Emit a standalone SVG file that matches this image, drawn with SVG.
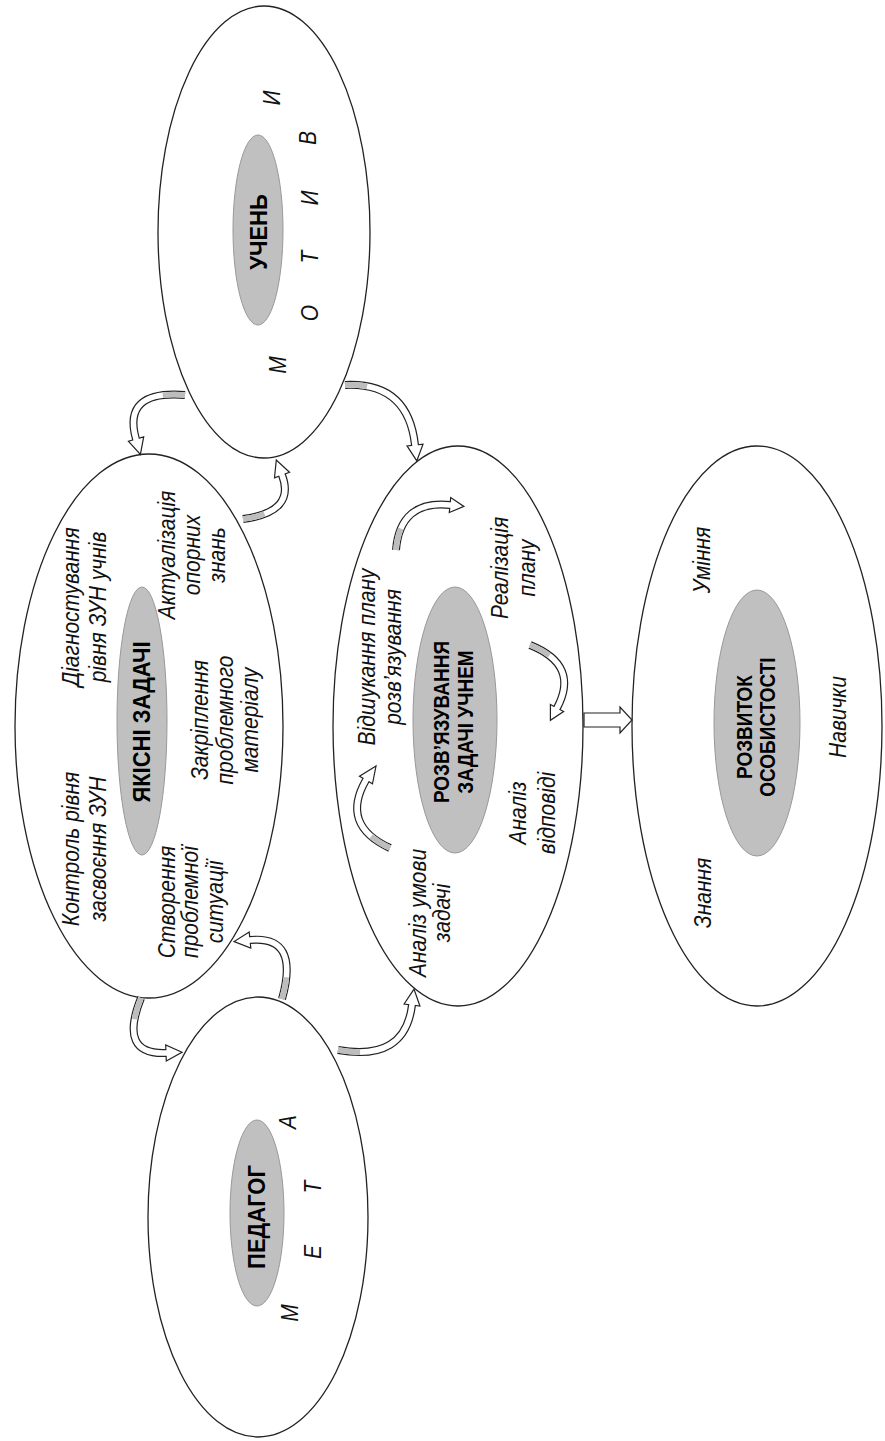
<svg xmlns="http://www.w3.org/2000/svg" width="885" height="1441" viewBox="0 0 885 1441">
<style>
.big{fill:#fff;stroke:#222;stroke-width:1.3}
.core{fill:#c0c0c0;stroke:#999;stroke-width:1}
.lbl{font-family:"Liberation Sans",Arial,sans-serif;font-style:italic;font-size:21px;fill:#111;text-anchor:middle;dominant-baseline:central}
.ttl{font-family:"Liberation Sans",Arial,sans-serif;font-weight:bold;font-size:22px;fill:#000;text-anchor:middle;dominant-baseline:central}
.ttl2{font-family:"Liberation Sans",Arial,sans-serif;font-weight:bold;font-size:19px;fill:#000;text-anchor:middle;dominant-baseline:central}
.bo{fill:none;stroke:#222;stroke-width:8}
.bi{fill:none;stroke:#fff;stroke-width:5.6}
.bg{fill:none;stroke:#bdbdbd;stroke-width:5.6;stroke-dasharray:22 2000}
.hd{fill:#fff;stroke:#222;stroke-width:1.2;stroke-linejoin:miter}
</style>
<rect width="885" height="1441" fill="#fff"/>

<g id="uchen">
<ellipse class="big" cx="264" cy="232" rx="106" ry="226"/>
<ellipse class="core" cx="258" cy="230" rx="25" ry="95"/>
<text class="ttl" transform="translate(259,232) rotate(-90) scale(1,1.12)">УЧЕНЬ</text>
<text class="lbl" transform="translate(278,365) rotate(-90) scale(1,1.12)">М</text>
<text class="lbl" transform="translate(310,313) rotate(-90) scale(1,1.12)">О</text>
<text class="lbl" transform="translate(310,257) rotate(-90) scale(1,1.12)">Т</text>
<text class="lbl" transform="translate(310,198) rotate(-90) scale(1,1.12)">И</text>
<text class="lbl" transform="translate(308,138) rotate(-90) scale(1,1.12)">В</text>
<text class="lbl" transform="translate(272,98) rotate(-90) scale(1,1.12)">И</text>
</g>

<g id="yakisni">
<ellipse class="big" cx="149" cy="726" rx="134" ry="272"/>
<ellipse class="core" cx="142" cy="721" rx="25" ry="134"/>
<text class="ttl" transform="translate(142,722) rotate(-90) scale(1,1.12)">ЯКІСНІ ЗАДАЧІ</text>
<text class="lbl" transform="translate(71,849) rotate(-90) scale(1,1.12)">Контроль рівня</text>
<text class="lbl" transform="translate(98,849) rotate(-90) scale(1,1.12)">засвоєння ЗУН</text>
<text class="lbl" transform="translate(71,607) rotate(-90) scale(1,1.12)">Діагностування</text>
<text class="lbl" transform="translate(98,607) rotate(-90) scale(1,1.12)">рівня ЗУН учнів</text>
<text class="lbl" transform="translate(167,555) rotate(-90) scale(1,1.12)">Актуалізація</text>
<text class="lbl" transform="translate(192,555) rotate(-90) scale(1,1.12)">опорних</text>
<text class="lbl" transform="translate(217,555) rotate(-90) scale(1,1.12)">знань</text>
<text class="lbl" transform="translate(200,720) rotate(-90) scale(1,1.12)">Закріплення</text>
<text class="lbl" transform="translate(225,720) rotate(-90) scale(1,1.12)">проблемного</text>
<text class="lbl" transform="translate(250,720) rotate(-90) scale(1,1.12)">матеріалу</text>
<text class="lbl" transform="translate(167,902) rotate(-90) scale(1,1.12)">Створення</text>
<text class="lbl" transform="translate(190,902) rotate(-90) scale(1,1.12)">проблемної</text>
<text class="lbl" transform="translate(215,902) rotate(-90) scale(1,1.12)">ситуації</text>
</g>

<g id="rozvyazuvannya">
<ellipse class="big" cx="458" cy="726" rx="125" ry="280"/>
<ellipse class="core" cx="455" cy="720" rx="42" ry="133"/>
<text class="ttl2" transform="translate(442,722) rotate(-90) scale(1,1.12)">РОЗВ’ЯЗУВАННЯ</text>
<text class="ttl2" transform="translate(466,722) rotate(-90) scale(1,1.12)">ЗАДАЧІ УЧНЕМ</text>
<text class="lbl" transform="translate(367,657) rotate(-90) scale(1,1.12)">Відшукання плану</text>
<text class="lbl" transform="translate(393,657) rotate(-90) scale(1,1.12)">розв’язування</text>
<text class="lbl" transform="translate(500,568) rotate(-90) scale(1,1.12)">Реалізація</text>
<text class="lbl" transform="translate(527,568) rotate(-90) scale(1,1.12)">плану</text>
<text class="lbl" transform="translate(518,813) rotate(-90) scale(1,1.12)">Аналіз</text>
<text class="lbl" transform="translate(547,813) rotate(-90) scale(1,1.12)">відповіді</text>
<text class="lbl" transform="translate(418,913) rotate(-90) scale(1,1.12)">Аналіз умови</text>
<text class="lbl" transform="translate(442,913) rotate(-90) scale(1,1.12)">задачі</text>
</g>

<g id="rozvytok">
<ellipse class="big" cx="757" cy="726" rx="125" ry="280"/>
<ellipse class="core" cx="757" cy="723" rx="43" ry="133"/>
<text class="ttl2" transform="translate(745,727) rotate(-90) scale(1,1.12)">РОЗВИТОК</text>
<text class="ttl2" transform="translate(768,727) rotate(-90) scale(1,1.12)">ОСОБИСТОСТІ</text>
<text class="lbl" transform="translate(702,560) rotate(-90) scale(1,1.12)">Уміння</text>
<text class="lbl" transform="translate(838,717) rotate(-90) scale(1,1.12)">Навички</text>
<text class="lbl" transform="translate(703,893) rotate(-90) scale(1,1.12)">Знання</text>
</g>

<g id="pedagog">
<ellipse class="big" cx="258" cy="1217" rx="110" ry="220"/>
<ellipse class="core" cx="257" cy="1213" rx="27" ry="93"/>
<text class="ttl" transform="translate(257,1217) rotate(-90) scale(1,1.12)">ПЕДАГОГ</text>
<text class="lbl" transform="translate(290,1313) rotate(-90) scale(1,1.12)">М</text>
<text class="lbl" transform="translate(313,1252) rotate(-90) scale(1,1.12)">Е</text>
<text class="lbl" transform="translate(313,1187) rotate(-90) scale(1,1.12)">Т</text>
<text class="lbl" transform="translate(288,1122) rotate(-90) scale(1,1.12)">А</text>
</g>

<g id="connectors">
<path class="bo" d="M185,395 Q122,390 136,439 L136.8,441.9"/>
<polygon class="hd" points="128.3,441.2 140.4,454.4 143.7,436.8"/>
<path class="bi" d="M185,395 Q122,390 136,439 L136.8,441.9"/>
<path class="bg" d="M185,395 Q122,390 136,439"/>

<path class="bo" d="M243,519 Q296,512 282,475 L280.9,472.2"/>
<polygon class="hd" points="289.5,472.2 276.3,460 274.5,477.8"/>
<path class="bi" d="M243,519 Q296,512 282,475 L280.9,472.2"/>
<path class="bg" d="M243,519 Q296,512 282,475"/>

<path class="bo" d="M345,385 Q408,382 415,445 L415.3,448"/>
<polygon class="hd" points="407,445.9 416.8,460.9 423,444.1"/>
<path class="bi" d="M345,385 Q408,382 415,445 L415.3,448"/>
<path class="bg" d="M345,385 Q408,382 415,445"/>

<path class="bo" d="M282,999 Q300,935 250,940 L247,940.3"/>
<polygon class="hd" points="249.2,932 234.1,941.6 250.8,948"/>
<path class="bi" d="M282,999 Q300,935 250,940 L247,940.3"/>
<path class="bg" d="M282,999 Q300,935 250,940"/>

<path class="bo" d="M141,998 Q118,1055 166,1053 L169,1052.9"/>
<polygon class="hd" points="166.3,1061 182,1052.3 165.7,1045"/>
<path class="bi" d="M141,998 Q118,1055 166,1053 L169,1052.9"/>
<path class="bg" d="M141,998 Q118,1055 166,1053"/>

<path class="bo" d="M338,1050 Q405,1062 412,1005 L412.4,1002"/>
<polygon class="hd" points="419.9,1006 414,989.1 404.1,1004"/>
<path class="bi" d="M338,1050 Q405,1062 412,1005 L412.4,1002"/>
<path class="bg" d="M338,1050 Q405,1062 412,1005"/>

<path class="bo" d="M390,848 Q340,825 366,780 L367.5,777.4"/>
<polygon class="hd" points="372.5,783.75 376,766 359.5,776.25"/>
<path class="bi" d="M390,848 Q340,825 366,780 L367.5,777.4"/>
<path class="bg" d="M390,848 Q340,825 366,780"/>

<path class="bo" d="M396,550 Q400,500 450,505 L453,505.3"/>
<polygon class="hd" points="449.3,512.5 463.9,506.4 450.7,497.5"/>
<path class="bi" d="M396,550 Q400,500 450,505 L453,505.3"/>
<path class="bg" d="M396,550 Q400,500 450,505"/>

<path class="bo" d="M530,645 Q580,665 557,708 L555.6,710.6"/>
<polygon class="hd" points="550.4,704.5 550.4,720.3 563.6,711.5"/>
<path class="bi" d="M530,645 Q580,665 557,708 L555.6,710.6"/>
<path class="bg" d="M530,645 Q580,665 557,708"/>

<polygon class="hd" points="584,713 620,713 620,707 632,720 620,733 620,727 584,727"/>
</g>
</svg>
